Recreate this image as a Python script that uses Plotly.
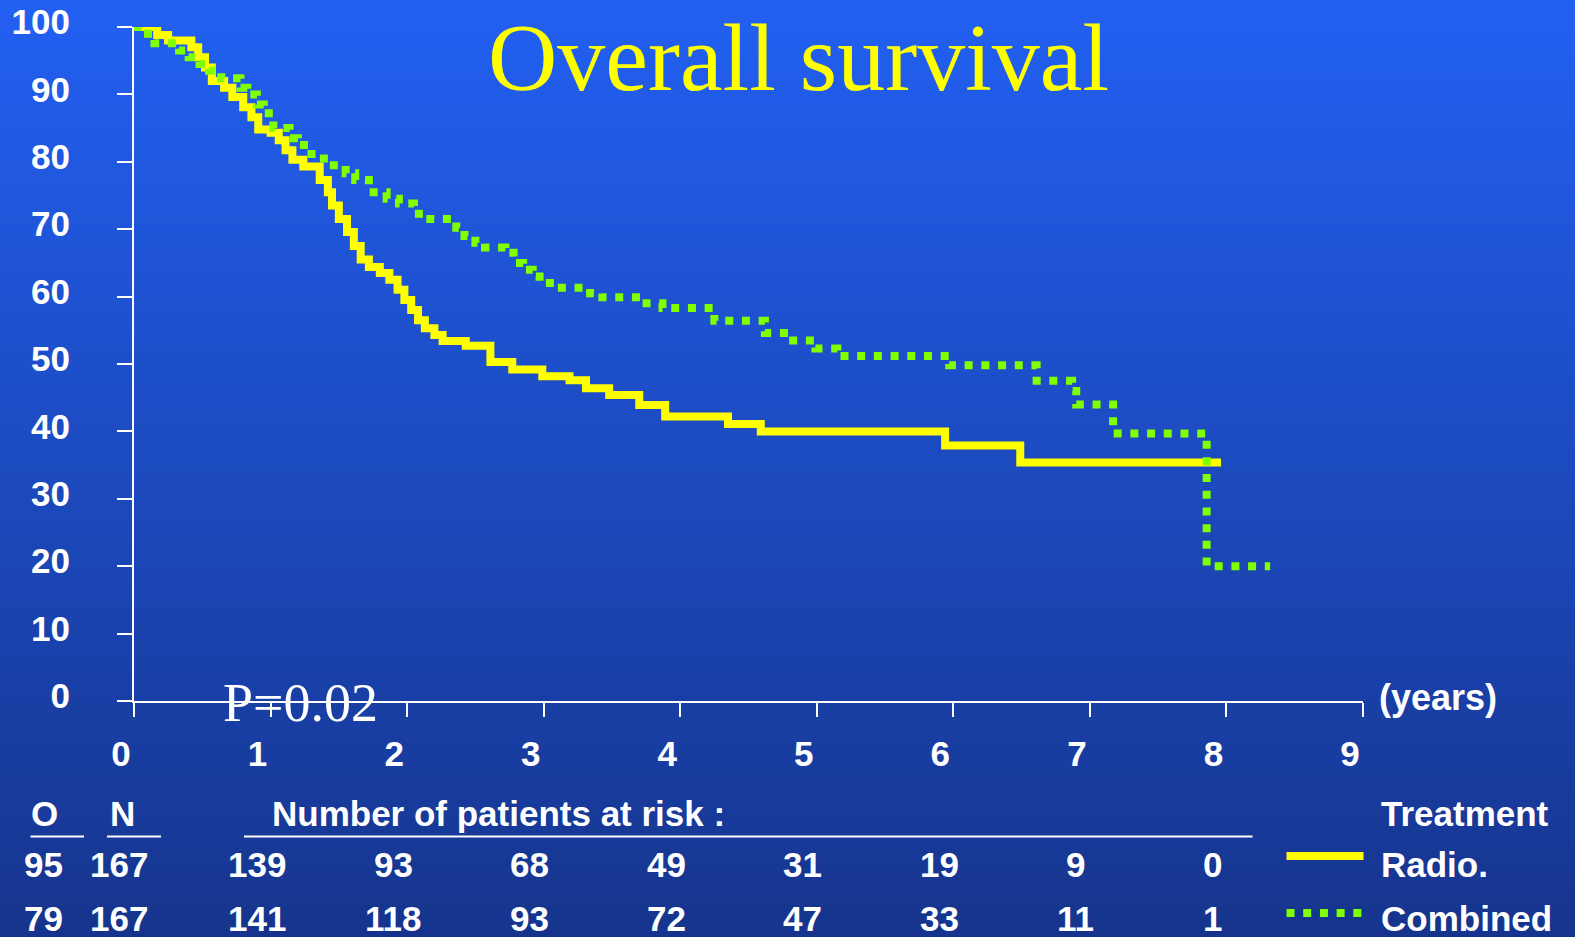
import plotly.graph_objects as go

# ---------------- data ----------------
years = list(range(10))
y_ticks = list(range(0, 101, 10))

radio_t = [0, 0.17, 0.25, 0.42, 0.47, 0.52, 0.57, 0.66, 0.72, 0.80, 0.86, 0.91, 1.00, 1.06,
           1.11, 1.16, 1.24, 1.36, 1.42, 1.45, 1.50, 1.56, 1.61, 1.66, 1.72, 1.80, 1.87, 1.93,
           1.98, 2.03, 2.08, 2.13, 2.20, 2.26, 2.43, 2.61, 2.77, 2.99, 3.19, 3.31, 3.48, 3.70,
           3.89, 4.35, 4.59, 5.94, 6.49, 7.96]
radio_s = [100, 98.8, 98.0, 97.0, 95.5, 94.0, 92.0, 91.0, 89.6, 88.1, 86.6, 84.8, 84.3, 83.2,
           81.7, 80.3, 79.3, 77.3, 75.5, 73.5, 71.5, 69.6, 67.5, 65.5, 64.4, 63.5, 62.5, 61.0,
           59.5, 58.0, 56.5, 55.3, 54.3, 53.4, 52.7, 50.3, 49.2, 48.2, 47.6, 46.4, 45.4, 43.9,
           42.2, 41.1, 40.0, 37.9, 35.4, 35.4]

comb_t = [0, 0.07, 0.15, 0.33, 0.40, 0.48, 0.55, 0.64, 0.78, 0.83, 0.90, 0.95, 1.02, 1.14,
          1.20, 1.30, 1.42, 1.55, 1.62, 1.72, 1.85, 1.94, 2.05, 2.17, 2.36, 2.42, 2.50, 2.57,
          2.72, 2.78, 2.85, 2.92, 2.97, 3.09, 3.34, 3.43, 3.72, 3.87, 4.25, 4.62, 4.76, 4.99,
          5.15, 5.97, 6.61, 6.87, 6.90, 7.17, 7.855, 8.32]
comb_s = [100, 99.0, 97.6, 96.5, 95.5, 94.5, 93.5, 92.4, 91.0, 90.0, 88.5, 87.2, 85.0, 83.5,
          82.5, 80.5, 79.5, 78.3, 77.3, 75.5, 74.5, 73.8, 72.3, 71.5, 70.2, 69.0, 68.0, 67.3,
          66.5, 65.0, 64.0, 63.0, 62.0, 61.3, 60.5, 59.9, 59.0, 58.3, 56.4, 54.6, 53.5, 52.3,
          51.2, 49.8, 47.5, 46.0, 44.0, 39.7, 20.0, 20.0]

risk_years = [1, 2, 3, 4, 5, 6, 7, 8]
risk_radio = [139, 93, 68, 49, 31, 19, 9, 0]
risk_comb = [141, 118, 93, 72, 47, 33, 11, 1]
observed = [95, 79]
n_patients = [167, 167]
groups = ["Radio.", "Combined"]

title_text = "Overall survival"
p_text = "P=0.02"
x_unit = "(years)"
risk_header = "Number of patients at risk :"
legend_title = "Treatment"

# ---------------- styling ----------------
W, H = 1575, 937
X0, X1, Y0, Y1 = 134, 1363.5, 701, 27   # plot area in pixels
YELLOW = "#FFFF00"
GREEN = "#7FFF00"
WHITE = "white"
SANS = "Liberation Sans"
SERIF = "Liberation Serif"
FS = 35
DOT = "8px,8.7px"


def px_x(px):
    return (px - X0) / (X1 - X0)


def px_y(py):
    return (Y0 - py) / (Y0 - Y1)


fig = go.Figure()
fig.add_trace(go.Scatter(x=radio_t, y=radio_s, mode="lines", line_shape="hv",
                         line=dict(color=YELLOW, width=8), name=groups[0], showlegend=False))
fig.add_trace(go.Scatter(x=comb_t, y=comb_s, mode="lines", line_shape="hv",
                         line=dict(color=GREEN, width=8, dash=DOT), name=groups[1], showlegend=False))

# background gradient (bands)
shapes = []
top = (34, 96, 242)
bot = (22, 52, 140)
step = 4
for py in range(0, H, step):
    f = py / H
    c = tuple(round(top[i] + (bot[i] - top[i]) * f) for i in range(3))
    shapes.append(dict(type="rect", xref="paper", yref="paper",
                       x0=px_x(-5), x1=px_x(W + 5), y0=px_y(py + step + 1), y1=px_y(py - 1),
                       line=dict(width=0), fillcolor="rgb(%d,%d,%d)" % c, layer="below"))

# underlines in the table
for a, b in [(30.5, 84), (107, 161), (244, 1253)]:
    shapes.append(dict(type="line", xref="paper", yref="paper", x0=px_x(a), x1=px_x(b),
                       y0=px_y(836.5), y1=px_y(836.5), line=dict(color=WHITE, width=2)))

# legend samples
shapes.append(dict(type="line", xref="paper", yref="paper", x0=px_x(1287), x1=px_x(1364),
                   y0=px_y(856), y1=px_y(856), line=dict(color=YELLOW, width=8)))
shapes.append(dict(type="line", xref="paper", yref="paper", x0=px_x(1287), x1=px_x(1364),
                   y0=px_y(913), y1=px_y(913), line=dict(color=GREEN, width=8, dash=DOT)))

bold = dict(family=SANS, size=FS, color=WHITE, weight="bold")
ann = []
ann.append(dict(text=title_text, xref="paper", yref="paper", x=px_x(799), y=px_y(58),
                xanchor="center", yanchor="middle", showarrow=False,
                font=dict(family=SERIF, size=96, color=YELLOW)))
ann.append(dict(text=p_text, xref="paper", yref="paper", x=px_x(221), y=px_y(703),
                xanchor="left", yanchor="middle", showarrow=False,
                font=dict(family=SERIF, size=54, color=WHITE)))
ann.append(dict(text=x_unit, xref="paper", yref="paper", x=px_x(1378), y=px_y(697),
                xanchor="left", yanchor="middle", showarrow=False,
                font=dict(family=SANS, size=36, color=WHITE, weight="bold")))
ann.append(dict(text=legend_title, xref="paper", yref="paper", x=px_x(1380), y=px_y(813),
                xanchor="left", yanchor="middle", showarrow=False, font=bold))
ann.append(dict(text=risk_header, xref="paper", yref="paper", x=px_x(270), y=px_y(813.5),
                xanchor="left", yanchor="middle", showarrow=False, font=bold))
ann.append(dict(text="O", xref="paper", yref="paper", x=px_x(44.6), y=px_y(813.5),
                xanchor="center", yanchor="middle", showarrow=False, font=bold))
ann.append(dict(text="N", xref="paper", yref="paper", x=px_x(122), y=px_y(813.5),
                xanchor="center", yanchor="middle", showarrow=False, font=bold))

row_y = [864.5, 918.5]
for r, (g, o, n, risks) in enumerate(zip(groups, observed, n_patients, [risk_radio, risk_comb])):
    yy = px_y(row_y[r])
    ann.append(dict(text=str(o), xref="paper", yref="paper", x=px_x(43), y=yy,
                    xanchor="center", yanchor="middle", showarrow=False, font=bold))
    ann.append(dict(text=str(n), xref="paper", yref="paper", x=px_x(118.7), y=yy,
                    xanchor="center", yanchor="middle", showarrow=False, font=bold))
    for yr, v in zip(risk_years, risks):
        ann.append(dict(text=str(v), xref="x", yref="paper", x=yr, xshift=-14, y=yy,
                        xanchor="center", yanchor="middle", showarrow=False, font=bold))
    ann.append(dict(text=g, xref="paper", yref="paper", x=px_x(1380), y=yy,
                    xanchor="left", yanchor="middle", showarrow=False, font=bold))

fig.update_layout(
    width=W, height=H,
    margin=dict(l=X0, r=W - X1, t=Y1, b=H - Y0, pad=0),
    paper_bgcolor="rgb(28,74,190)", plot_bgcolor="rgba(0,0,0,0)",
    shapes=shapes, annotations=ann, showlegend=False,
    xaxis=dict(range=[0, 9], tickvals=years, ticktext=[str(v) for v in years],
               showline=True, linecolor=WHITE, linewidth=2, ticks="outside", ticklen=14,
               tickwidth=2, tickcolor=WHITE, showgrid=False, zeroline=False, automargin=False,
               tickfont=bold, ticklabelshift=-13, ticklabelstandoff=7),
    yaxis=dict(range=[0, 100], tickvals=y_ticks, ticktext=[str(v) for v in y_ticks],
               showline=True, linecolor=WHITE, linewidth=2, ticks="outside", ticklen=15,
               tickwidth=2, tickcolor=WHITE, showgrid=False, zeroline=False, automargin=False,
               tickfont=bold, ticklabelshift=-5, ticklabelstandoff=40),
)

fig.write_html("out.html", config={"displayModeBar": False},
               post_script="document.body.style.margin='0';document.body.style.overflow='hidden';")
